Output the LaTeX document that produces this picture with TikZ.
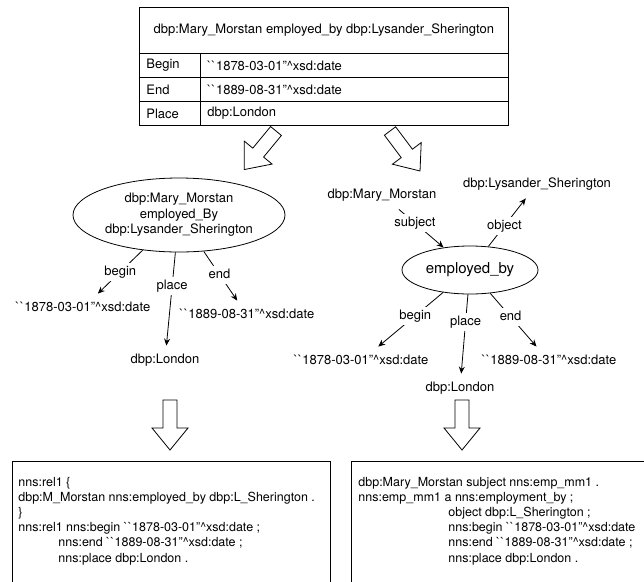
\documentclass[tikz,border=0pt]{standalone}
\usepackage{fontspec}
\setmainfont{TeX Gyre Heros}
\usetikzlibrary{arrows.meta,shapes.geometric}
\newcommand\mygrv{\textasciigrave\textasciigrave}
\newcommand\mydateA{\mygrv1878-03-01"\textasciicircum xsd:date}
\newcommand\mydateB{\mygrv1889-08-31"\textasciicircum xsd:date}
\newcommand\blockarrow[2]{\draw[blk, shift={(#1)}, rotate=#2] (0,-7) -- (28,-7) -- (28,-18) -- (50,0) -- (28,18) -- (28,7) -- (0,7) -- cycle;}
\begin{document}
\begin{tikzpicture}[x=1pt,y=-1pt,
  every node/.style={font=\fontsize{13}{15.6}\selectfont},
  line width=0.8pt,
  hdr/.style={draw, anchor=north west, minimum width=369pt, minimum height=46pt, inner sep=0pt},
  cellL/.style={draw, anchor=north west, minimum height=24pt, text width=47pt, inner xsep=7pt, inner ysep=0pt, align=left},
  cellR/.style={draw, anchor=north west, minimum height=24pt, text width=294pt, inner xsep=7pt, inner ysep=0pt, align=left},
  txt/.style={inner xsep=2pt, inner ysep=8pt, text height=9.5pt, text depth=2.5pt},
  lbl/.style={fill=white, inner sep=3pt, text height=9.5pt, text depth=2.5pt},
  conn/.style={draw, -{Stealth[length=7pt,width=6pt]}},
  blk/.style={draw, fill=white, line join=miter},
  codetxt/.style={anchor=north west, align=left, inner sep=0pt, font=\fontsize{12.5}{15.2}\selectfont}]
\useasboundingbox (0,0) rectangle (644,581);
\clip (0,0) rectangle (644,581);

% top table
\node[hdr] (hdr) at (139,7) {dbp:Mary\_Morstan employed\_by dbp:Lysander\_Sherington};
\node[cellL] (bk) at (139,53) {Begin};
\node[cellR] (bv) at (200,53) {\mydateA};
\node[cellL] (ek) at (139,77) {End};
\node[cellR] (ev) at (200,77) {\mydateB};
\node[cellL] (pk) at (139,101) {Place};
\node[cellR] (pv) at (200,101) {dbp:London};

% block arrows from the table
\coordinate (tl) at (276,131);
\coordinate (tr) at (390,131);
\blockarrow{tl}{-129.5}
\blockarrow{tr}{-53.1}

% left graph
\node[ellipse, draw, minimum width=212pt, minimum height=74pt, inner sep=0pt, align=center] (rel) at (179,215) {dbp:Mary\_Morstan\\employed\_By\\dbp:Lysander\_Sherington};
\node[txt] (lb) at (83,308) {\mydateA};
\node[txt] (lp) at (165,360) {dbp:London};
\node[txt] (le) at (247,315) {\mydateB};
\draw[conn] (rel) -- node[lbl, pos=0.5] {begin} (lb);
\draw[conn] (rel) -- node[lbl, pos=0.36] {place} (lp);
\draw[conn] (rel) -- node[lbl, pos=0.47] {end} (le);

% right graph
\node[txt] (mm) at (382,195) {dbp:Mary\_Morstan};
\node[txt] (ls) at (537,184) {dbp:Lysander\_Sherington};
\node[ellipse, draw, minimum width=136pt, minimum height=48pt, inner sep=0pt, font=\fontsize{15}{18}\selectfont] (emp) at (470,270) {employed\_by};
\node[txt] (rb) at (361,361) {\mydateA};
\node[txt] (rp) at (460,388) {dbp:London};
\node[txt] (re) at (549,361) {\mydateB};
\draw[conn] (mm) -- node[lbl, pos=0.36] {subject} (emp);
\draw[conn] (emp) -- node[lbl, pos=0.43] {object} (ls);
\draw[conn] (emp) -- node[lbl, pos=0.43] {begin} (rb);
\draw[conn] (emp) -- node[lbl, pos=0.35] {place} (rp);
\draw[conn] (emp) -- node[lbl, pos=0.44] {end} (re);

% down arrows
\coordinate (dl) at (170,400);
\coordinate (dr) at (462,400);
\blockarrow{dl}{-90}
\blockarrow{dr}{-90}

% bottom boxes
\draw (12,461) rectangle (330,600);
\draw (351,461) rectangle (660,600);
\node[codetxt] (lt) at (18,476.5) {nns:rel1 \{\\dbp:M\_Morstan nns:employed\_by dbp:L\_Sherington .\\\}\\nns:rel1 nns:begin \mydateA{} ;\\\hspace*{40pt}nns:end \mydateB{} ;\\\hspace*{40pt}nns:place dbp:London .};
\node[codetxt] (rt) at (358,476.5) {dbp:Mary\_Morstan subject nns:emp\_mm1 .\\nns:emp\_mm1 a nns:employment\_by ;\\\hspace*{90pt}object dbp:L\_Sherington ;\\\hspace*{90pt}nns:begin \mydateA\\\hspace*{90pt}nns:end \mydateB{} ;\\\hspace*{90pt}nns:place dbp:London .};
\end{tikzpicture}
\end{document}
